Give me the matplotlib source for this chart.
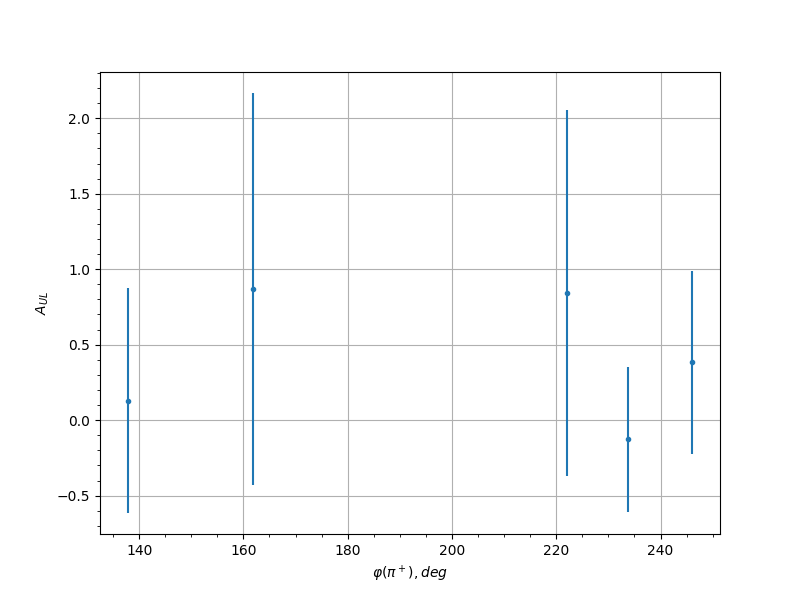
import matplotlib
matplotlib.use("Agg")
import matplotlib.pyplot as plt

phi = [137.9, 161.85, 222.1, 233.85, 246.0]
a_ul = [0.130, 0.869, 0.841, -0.126, 0.382]
err = [0.745, 1.298, 1.213, 0.481, 0.608]

fig, ax = plt.subplots(figsize=(8, 6), dpi=100)
ax.errorbar(phi, a_ul, yerr=err, fmt='.')
ax.set_xlabel(r'$\varphi(\pi^+), deg$')
ax.set_ylabel(r'$A_{UL}$')
ax.grid(True)
ax.minorticks_on()
fig.savefig("out.png")
